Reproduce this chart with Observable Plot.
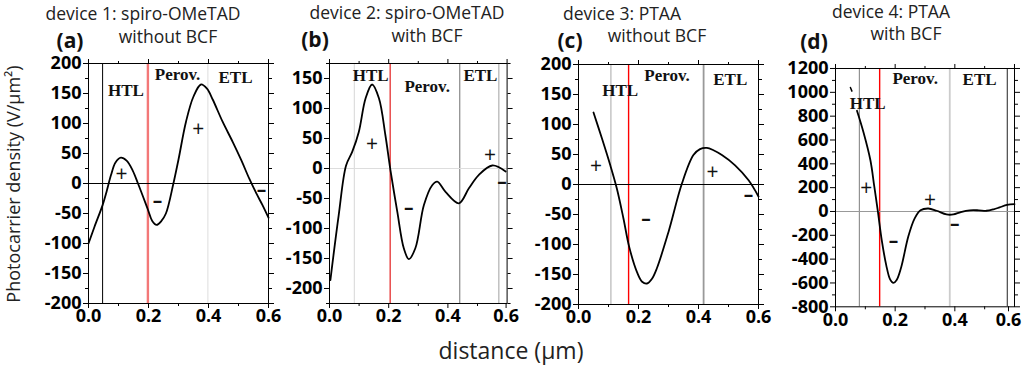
<!DOCTYPE html>
<html><head><meta charset="utf-8">
<script src="https://cdn.jsdelivr.net/npm/d3@7"></script>
<script src="https://cdn.jsdelivr.net/npm/@observablehq/plot@0.6"></script>
<style>
body{margin:0;background:#fff}
#root{position:relative;width:1024px;height:366px;overflow:hidden;background:#fff}
</style>
</head><body><div id="root"></div>
<script>
// ---------- data ----------
const xTicksMajor = [0, 0.2, 0.4, 0.6];
const xTicksMinor = [0.1, 0.3, 0.5];

const yMajorA = [-200,-150,-100,-50,0,50,100,150,200];
const yMinorA = [-175,-125,-75,-25,25,75,125,175];
const yMajorB = [-200,-150,-100,-50,0,50,100,150];
const yMinorB = [-225,-175,-125,-75,-25,25,75,125,175];
const yMajorD = [-800,-600,-400,-200,0,200,400,600,800,1000,1200];
const yMinorD = [-700,-500,-300,-100,100,300,500,700,900,1100];

// device 1: spiro-OMeTAD without BCF
const xA = [0,0.02,0.047,0.06,0.075,0.09,0.108,0.127,0.147,0.165,0.197,0.212,0.227,0.242,0.258,0.283,0.3,0.325,0.35,0.375,0.395,0.414,0.447,0.481,0.51,0.536,0.56,0.58,0.6];
const yA = [-100,-72,-36,-14,14,35,43,38,22,0,-42,-62,-69,-63,-50,0,40,103,145,165,158,140,103,69,38,8,-17,-36,-57];
// device 2: spiro-OMeTAD with BCF
const xB = [0.003,0.031,0.056,0.077,0.099,0.122,0.144,0.167,0.189,0.206,0.229,0.251,0.268,0.29,0.319,0.347,0.364,0.392,0.437,0.471,0.504,0.55,0.595];
const yB = [-186,-78,5,28,61,117,140,117,55,-3,-72,-133,-151,-133,-61,-28,-22,-39,-58,-33,-11,5,-5];
// device 3: PTAA without BCF
const xC = [0.05,0.078,0.106,0.128,0.15,0.169,0.195,0.212,0.228,0.245,0.261,0.3,0.345,0.383,0.405,0.428,0.45,0.478,0.522,0.567,0.6];
const yC = [120,77,32,-7,-57,-104,-146,-162,-165,-157,-140,-79,2,49,59,61,57,49,32,7,-20];
// device 4: PTAA with BCF
const xD = [0.072,0.094,0.117,0.13,0.142,0.155,0.17,0.183,0.194,0.205,0.22,0.244,0.265,0.285,0.311,0.339,0.372,0.395,0.42,0.45,0.48,0.506,0.53,0.55,0.575,0.6];
const yD = [845,663,430,210,0,-240,-450,-570,-600,-575,-470,-210,-60,10,25,6,-25,-25,-5,10,10,6,18,34,55,62];
const xD2 = [0.05,0.055];
const yD2 = [1040,1010];

// layer boundaries (µm)
const boundA = [0.047, 0.198, 0.398];
const boundB = [0.084, 0.205, 0.44, 0.572];
const boundC = [0.108, 0.167, 0.417];
const boundD = [0.08, 0.148, 0.383, 0.576];

const regionNames = ["HTL", "Perov.", "ETL"];
const regionXA = [0.125, 0.297, 0.49],  regionYA = [155, 182, 176];
const regionXB = [0.139, 0.33, 0.51],   regionYB = [155, 136, 155];
const regionXC = [0.139, 0.295, 0.506], regionYC = [157, 181, 175];
const regionXD = [0.108, 0.267, 0.483], regionYD = [909, 1116, 1105];

const signs = ["+", "–", "+", "–"];
const signXA = [0.11, 0.23, 0.366, 0.577],  signYA = [15, -29, 90, -10];
const signXB = [0.144, 0.268, 0.542, 0.583], signYB = [40, -65, 22, -22];
const signXC = [0.058, 0.225, 0.447, 0.567], signYC = [30, -57, 20, -18];
const signXD = [0.103, 0.194, 0.317, 0.4],   signYD = [193, -246, 98, -106];

const titles1 = ["device 1: spiro-OMeTAD", "device 2: spiro-OMeTAD", "device 3: PTAA", "device 4: PTAA"];
const titles2 = ["without BCF", "with BCF", "without BCF", "with BCF"];
const letters = ["(a)", "(b)", "(c)", "(d)"];

// ---------- drawing ----------
const root = document.getElementById("root");
const zip = (xs, ys) => xs.map((x, i) => ({x, y: ys[i]}));
const ML = 55, MR = 9, MT = 10, MB = 32;

function panel(cfg) {
  const line = zip(cfg.xs, cfg.ys);
  const regions = regionNames.map((t, i) => ({t, x: cfg.rx[i], y: cfg.ry[i]}));
  const sg = signs.map((t, i) => ({t, x: cfg.sx[i], y: cfg.sy[i]}));
  const marks = [];
  cfg.bounds.forEach((b, i) => {
    marks.push(Plot.ruleX([b], {stroke: cfg.bStyle[i][0], strokeWidth: cfg.bStyle[i][1]}));
  });
  marks.push(Plot.ruleY([0], {stroke: cfg.zero[0], strokeWidth: cfg.zero[1]}));
  marks.push(Plot.line(line, {x: "x", y: "y", curve: "catmull-rom", stroke: "#000", strokeWidth: 1.8}));
  if (cfg.extra) marks.push(Plot.line(cfg.extra, {x: "x", y: "y", stroke: "#000", strokeWidth: 1.5}));
  marks.push(Plot.text(regions, {x: "x", y: "y", text: "t", fontFamily: "Liberation Serif", fontWeight: "bold", fontSize: 17, fill: "#111"}));
  marks.push(Plot.text(sg.filter(d => d.t === "+"), {x: "x", y: "y", text: "t", fontFamily: "Open Sans", fontWeight: "normal", fontSize: 21, fill: "#111"}));
  marks.push(Plot.text(sg.filter(d => d.t !== "+"), {x: "x", y: "y", text: "t", fontFamily: "Open Sans", fontWeight: "bold", fontSize: 19, fill: "#111"}));
  marks.push(Plot.frame({stroke: "#000"}));
  const hide = () => "";
  const lab = {tickSize: 5, tickPadding: 1, tickFormat: d3.format(".1f"), label: null, fontWeight: "bold", fontSize: 18, fontFamily: "Open Sans"};
  marks.push(Plot.axisY({ticks: cfg.yMajor, tickSize: 5, tickPadding: 2, tickFormat: d => String(d), label: null, fontWeight: "bold", fontSize: 18, fontFamily: "Open Sans"}));
  marks.push(Plot.axisY({ticks: cfg.yMinor, tickSize: 3, tickFormat: hide, label: null}));
  marks.push(Plot.axisY({anchor: "right", ticks: cfg.yMajor, tickSize: 5, tickFormat: hide, label: null}));
  marks.push(Plot.axisY({anchor: "right", ticks: cfg.yMinor, tickSize: 3, tickFormat: hide, label: null}));
  if (cfg.lastShift) {
    marks.push(Plot.axisX({...lab, ticks: xTicksMajor.slice(0, 3)}));
    marks.push(Plot.axisX({...lab, ticks: xTicksMajor.slice(3), dx: cfg.lastShift}));
  } else {
    marks.push(Plot.axisX({...lab, ticks: xTicksMajor}));
  }
  marks.push(Plot.axisX({ticks: xTicksMinor, tickSize: 3, tickFormat: hide, label: null}));
  marks.push(Plot.axisX({anchor: "top", ticks: xTicksMajor, tickSize: 5, tickFormat: hide, label: null}));
  marks.push(Plot.axisX({anchor: "top", ticks: xTicksMinor, tickSize: 3, tickFormat: hide, label: null}));

  const el = Plot.plot({
    width: ML + cfg.w + MR,
    height: MT + cfg.h + MB,
    marginLeft: ML, marginRight: MR, marginTop: MT, marginBottom: MB,
    x: {domain: [0, 0.6]},
    y: {domain: cfg.yDomain},
    style: {background: "transparent", overflow: "visible", fontFamily: "Open Sans", color: "#000"},
    marks
  });
  el.style.position = "absolute";
  el.style.left = (cfg.left - ML) + "px";
  el.style.top = (cfg.top - MT) + "px";
  el.style.maxWidth = "none";
  root.appendChild(el);
}

panel({left: 87.5, top: 63.3, w: 180, h: 240, yDomain: [-200, 200], yMajor: yMajorA, yMinor: yMinorA,
  xs: xA, ys: yA, bounds: boundA, bStyle: [["#000", 1], ["#f37878", 2.4], ["#ddd", 1]], zero: ["#000", 1],
  rx: regionXA, ry: regionYA, sx: signXA, sy: signYA});
panel({left: 329, top: 63.3, w: 177.6, h: 240, yDomain: [-225, 175], yMajor: yMajorB, yMinor: yMinorB,
  xs: xB, ys: yB, bounds: boundB, bStyle: [["#ddd", 1.2], ["#e53030", 1.3], ["#888", 1.2], ["#bbb", 1.4]], zero: ["#ddd", 1.2],
  rx: regionXB, ry: regionYB, sx: signXB, sy: signYB, lastShift: -1});
panel({left: 578.3, top: 64.3, w: 180, h: 240, yDomain: [-200, 200], yMajor: yMajorA, yMinor: yMinorA,
  xs: xC, ys: yC, bounds: boundC, bStyle: [["#bbb", 1.3], ["#f00", 1.4], ["#999", 1.8]], zero: ["#000", 1],
  rx: regionXC, ry: regionYC, sx: signXC, sy: signYC});
panel({left: 835, top: 67.7, w: 179, h: 238.3, yDomain: [-800, 1200], yMajor: yMajorD, yMinor: yMinorD,
  xs: xD, ys: yD, bounds: boundD, bStyle: [["#888", 1.1], ["#f00", 1.4], ["#ccc", 1.8], ["#555", 1.3]], zero: ["#999", 1.2],
  rx: regionXD, ry: regionYD, sx: signXD, sy: signYD, extra: zip(xD2, yD2), lastShift: -6});

// titles and axis titles
const ov = d3.select(root).append("svg")
  .attr("width", 1024).attr("height", 366)
  .style("position", "absolute").style("left", 0).style("top", 0).style("pointer-events", "none")
  .style("font-family", "Open Sans");
const t1pos = [[143, 20], [407, 19], [622, 20], [891, 18]];
const t2pos = [[168, 43], [427, 42], [657, 42], [906, 40]];
const lpos = [[70, 48], [315, 47], [570, 48], [814, 49]];
titles1.forEach((t, i) => ov.append("text").attr("x", t1pos[i][0]).attr("y", t1pos[i][1]).attr("text-anchor", "middle").attr("font-size", 17.5).attr("fill", "#222").text(t));
titles2.forEach((t, i) => ov.append("text").attr("x", t2pos[i][0]).attr("y", t2pos[i][1]).attr("text-anchor", "middle").attr("font-size", 17.5).attr("fill", "#222").text(t));
letters.forEach((t, i) => ov.append("text").attr("x", lpos[i][0]).attr("y", lpos[i][1]).attr("text-anchor", "middle").attr("font-size", 21).attr("font-weight", "bold").attr("fill", "#111").text(t));
ov.append("text").attr("transform", "translate(20,184) rotate(-90)").attr("text-anchor", "middle").attr("font-size", 18).attr("fill", "#222").text("Photocarrier density (V/µm²)");
ov.append("text").attr("x", 511).attr("y", 359).attr("text-anchor", "middle").attr("font-size", 23).attr("fill", "#222").text("distance (µm)");
</script></body></html>
